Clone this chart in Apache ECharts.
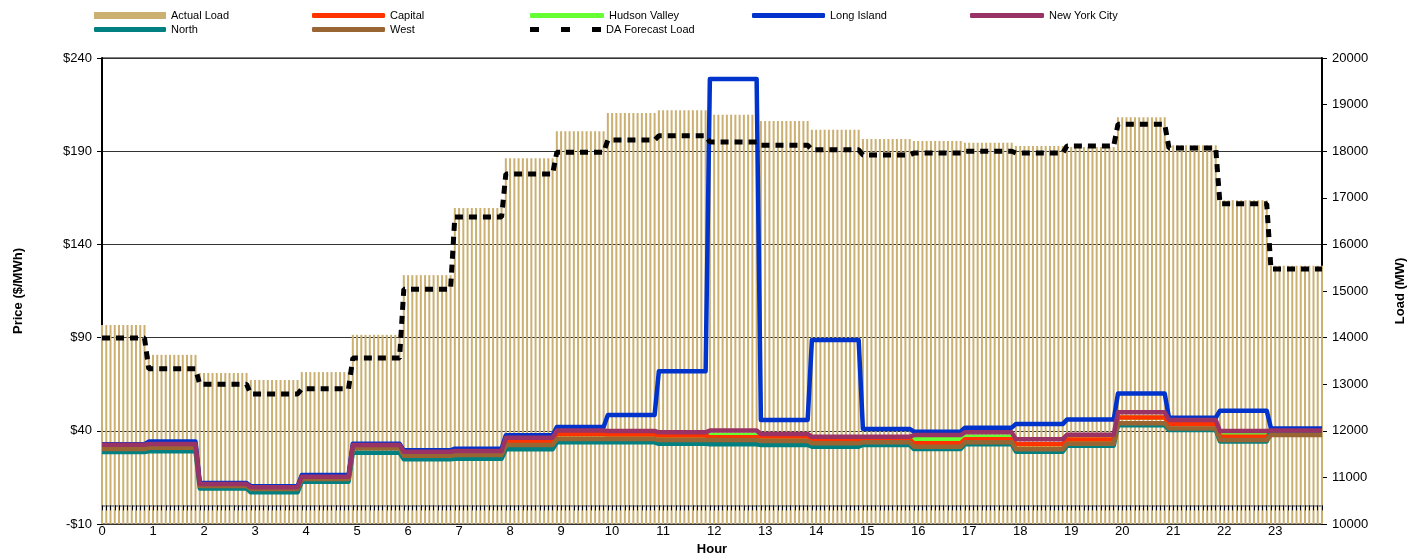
<!DOCTYPE html>
<html>
<head>
<meta charset="utf-8">
<script src="https://cdn.jsdelivr.net/npm/echarts@6/dist/echarts.min.js"></script>
<style>
html,body{margin:0;padding:0;background:#fff;}
#chart{width:1419px;height:553px;}
</style>
</head>
<body>
<div id="chart"></div>
<script>
// ---- data (hourly values) ----
const hourLabels = ['0','1','2','3','4','5','6','7','8','9','10','11','12','13','14','15','16','17','18','19','20','21','22','23'];
const priceTicks = [-10, 40, 90, 140, 190, 240];
const loadTicks = [10000, 20000];
const actualLoad = [14270, 13630, 13240, 13090, 13260, 14060, 15340, 16780, 17850, 18430, 18820, 18880, 18780, 18650, 18460, 18260, 18220, 18180, 18110, 18090, 18730, 18130, 16950, 15540];
const daForecastLoad = [13990, 13330, 13000, 12790, 12900, 13560, 15040, 16590, 17510, 17980, 18240, 18330, 18200, 18130, 18030, 17920, 17960, 18000, 17960, 18110, 18580, 18070, 16870, 15470];
const capital = [31.5, 32.0, 11.0, 9.2, 14.8, 31.5, 27.8, 28.2, 34.5, 38.2, 38.0, 37.5, 36.5, 37.0, 35.7, 35.5, 33.3, 35.5, 32.8, 35.3, 47.2, 43.5, 36.8, 39.0];
const hudsonValley = [31.5, 32.0, 11.0, 9.2, 14.8, 31.5, 27.8, 28.2, 34.5, 38.2, 38.0, 37.5, 37.7, 37.0, 35.7, 35.5, 35.4, 36.8, 32.8, 35.3, 47.2, 43.5, 37.9, 39.0];
const longIsland = [32.8, 34.2, 12.0, 10.2, 16.3, 33.1, 29.5, 30.4, 37.6, 42.0, 48.5, 72.0, 228.7, 45.8, 88.7, 41.0, 39.5, 41.7, 43.6, 46.0, 60.0, 47.0, 50.8, 41.3];
const newYorkCity = [32.5, 32.9, 11.5, 9.7, 15.4, 32.4, 28.8, 29.2, 36.3, 40.1, 39.9, 39.2, 40.1, 38.3, 36.8, 36.8, 37.7, 39.2, 35.4, 37.9, 49.9, 45.8, 39.9, 40.2];
const north = [28.6, 29.0, 9.1, 7.0, 12.7, 28.2, 24.7, 25.0, 30.1, 33.8, 33.8, 33.0, 32.8, 32.4, 31.5, 32.4, 30.2, 32.8, 28.8, 32.0, 43.0, 40.4, 34.3, 39.2];
const west = [30.2, 30.9, 10.4, 8.8, 14.1, 30.6, 26.6, 27.0, 32.4, 35.6, 35.6, 35.0, 35.1, 34.5, 33.3, 33.8, 31.5, 33.8, 30.1, 33.0, 44.0, 41.3, 35.1, 37.7];

// 5-minute intervals (12 per hour); each hour's value holds over its intervals
const PER_HOUR = 12;
const N = hourLabels.length * PER_HOUR;
const categories = Array.from({length: N}, (_, i) => String(i));
function expand(hourly) {
  const out = [];
  for (let i = 0; i < N; i++) {
    out.push(hourly[Math.min(hourly.length - 1, Math.floor((i + 1) / PER_HOUR))]);
  }
  return out;
}

const FONT = 'Liberation Sans, Arial, sans-serif';
const colors = {
  'Actual Load': '#CBB072',
  'Capital': '#FF3300',
  'Hudson Valley': '#66FF33',
  'Long Island': '#0033CC',
  'New York City': '#993366',
  'North': '#008080',
  'West': '#996633',
  'DA Forecast Load': '#000000'
};

function priceLine(name, arr) {
  return {
    name: name, type: 'line', xAxisIndex: 0, yAxisIndex: 0,
    data: expand(arr), symbol: 'none', smooth: false,
    lineStyle: {width: 4.5, color: colors[name], cap: 'butt', join: 'round'},
    itemStyle: {color: colors[name]},
    emphasis: {disabled: true}, animation: false
  };
}

const legendPos = [
  ['Actual Load', 94, 10, 'rect', 72, 7],
  ['Capital', 312, 10, 'roundRect', 73, 5],
  ['Hudson Valley', 530, 10, 'roundRect', 74, 5],
  ['Long Island', 752, 10, 'roundRect', 73, 5],
  ['New York City', 970, 10, 'roundRect', 74, 5],
  ['North', 94, 24, 'roundRect', 72, 5],
  ['West', 312, 24, 'roundRect', 73, 5],
  ['DA Forecast Load', 530, 24, 'path://M0,0h9v5h-9zM31,0h9v5h-9zM62,0h9v5h-9z', 71, 5]
];

const option = {
  animation: false,
  backgroundColor: '#fff',
  textStyle: {fontFamily: FONT},
  legend: legendPos.map(([name, left, top, icon, w, h]) => ({
    data: [{name: name, icon: icon}],
    left: left, top: top, padding: 0,
    itemWidth: w, itemHeight: h,
    itemStyle: {borderWidth: 0, color: colors[name]},
    lineStyle: {width: 0},
    selectedMode: false,
    textStyle: {fontSize: 11, color: '#000', fontFamily: FONT}
  })),
  grid: {left: 102, right: 97, top: 58, bottom: 29, containLabel: false, outerBoundsMode: 'none',
    show: true, borderColor: '#000', borderWidth: 1, backgroundColor: 'transparent'},
  xAxis: [
    {
      type: 'category', data: categories, boundaryGap: false, position: 'bottom',
      axisLine: {show: false, onZero: false},
      axisTick: {show: false},
      axisLabel: {
        interval: PER_HOUR - 1, margin: 1, fontSize: 13, color: '#000', fontFamily: FONT,
        formatter: (v, idx) => hourLabels[Math.round(idx / PER_HOUR)]
      },
      name: 'Hour', nameLocation: 'middle', nameGap: 14,
      nameTextStyle: {fontSize: 13, fontWeight: 'bold', color: '#000', fontFamily: FONT},
      splitLine: {show: false}
    },
    {
      type: 'category', data: categories, boundaryGap: false, position: 'bottom', z: 10,
      axisLine: {show: true, onZero: true, onZeroAxisIndex: 0, lineStyle: {color: '#999', width: 2}},
      axisTick: {show: true, interval: 0, length: 5, inside: false, lineStyle: {color: '#000', width: 1}},
      axisLabel: {show: false},
      splitLine: {show: false}
    }
  ],
  yAxis: [
    {
      type: 'value', min: priceTicks[0], max: priceTicks[priceTicks.length - 1], interval: 50, position: 'left',
      axisLine: {show: true, onZero: false, lineStyle: {color: '#000', width: 2}},
      axisTick: {show: true, length: 5, lineStyle: {color: '#000'}},
      axisLabel: {fontSize: 13, color: '#000', margin: 10, fontFamily: FONT,
        formatter: v => (v < 0 ? '-$' + Math.abs(v) : '$' + v)},
      splitLine: {show: true, lineStyle: {color: '#333', width: 1}},
      name: 'Price ($/MWh)', nameLocation: 'middle', nameGap: 77,
      nameTextStyle: {fontSize: 13, fontWeight: 'bold', color: '#000', fontFamily: FONT}
    },
    {
      type: 'value', min: loadTicks[0], max: loadTicks[1], interval: 1000, position: 'right',
      axisLine: {show: true, onZero: false, lineStyle: {color: '#000', width: 2}},
      axisTick: {show: true, length: 5, lineStyle: {color: '#000'}},
      axisLabel: {fontSize: 13, color: '#000', margin: 10, fontFamily: FONT, formatter: v => String(v)},
      splitLine: {show: false},
      name: 'Load (MW)', nameLocation: 'middle', nameGap: 72,
      nameTextStyle: {fontSize: 13, fontWeight: 'bold', color: '#000', fontFamily: FONT}
    }
  ],
  series: [
    {
      name: 'Actual Load', type: 'bar', xAxisIndex: 0, yAxisIndex: 1,
      data: expand(actualLoad), barWidth: 2,
      itemStyle: {color: colors['Actual Load']},
      emphasis: {disabled: true}, animation: false
    },
    priceLine('Hudson Valley', hudsonValley),
    priceLine('Capital', capital),
    priceLine('North', north),
    priceLine('West', west),
    priceLine('Long Island', longIsland),
    priceLine('New York City', newYorkCity),
    {
      name: 'DA Forecast Load', type: 'line', xAxisIndex: 0, yAxisIndex: 1,
      data: expand(daForecastLoad), symbol: 'none',
      lineStyle: {width: 5, color: '#000', type: [8, 6], cap: 'butt'},
      itemStyle: {color: '#000'},
      emphasis: {disabled: true}, animation: false
    }
  ]
};

const chart = echarts.init(document.getElementById('chart'), null, {renderer: 'canvas'});
chart.setOption(option);
</script>
</body>
</html>
